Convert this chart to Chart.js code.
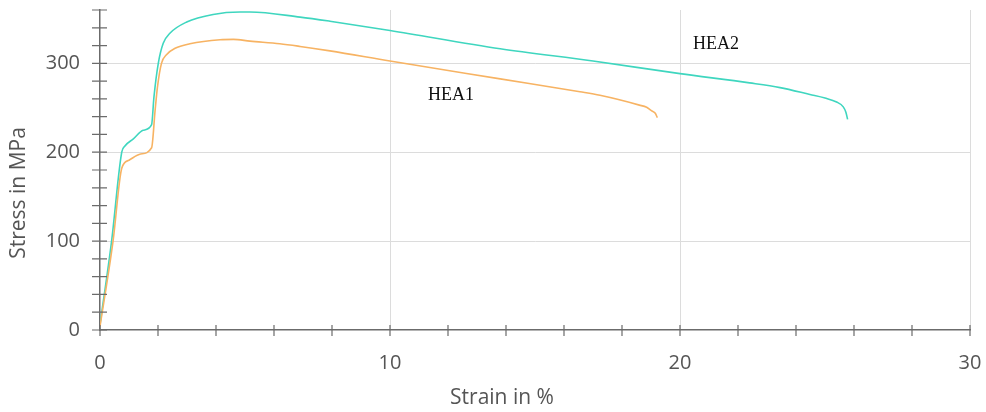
<!DOCTYPE html>
<html lang="en">
<head>
    <meta charset="UTF-8">
    <title>Stress-Strain HEA1 / HEA2</title>
    <style>
        body {
            margin: 0;
            padding: 0;
            background-color: white;
        }
        .chart-box {
            width: 986px;
            height: 412px;
        }
    </style>
</head>
<body>
    <div class="chart-box">
        <canvas id="chart"></canvas>
    </div>

    <script src="https://cdn.jsdelivr.net/npm/chart.js"></script>
    <script>
        // HEA1 (orange)
        const hea1Strain = [0, 0.45, 0.75, 1.0, 1.4, 1.78, 1.9, 1.98, 2.12, 2.3, 2.59, 3.1, 4.14, 4.6, 5.17, 6.2, 6.9, 7.93, 10, 13.8, 16.55, 17.24, 18.6, 18.85, 19.0, 19.14, 19.22];
        const hea1Stress = [4, 100, 182, 191, 198, 205, 247, 273, 300, 310, 317, 322, 326.6, 327, 325, 322, 319, 314, 302.6, 282.5, 268, 264, 253, 250.5, 247, 244, 239];

        // HEA2 (turquoise)
        const hea2Strain = [0, 0.4, 0.75, 0.86, 1.15, 1.49, 1.78, 1.86, 2.01, 2.18, 2.41, 2.99, 3.9, 4.83, 5.17, 6.9, 7.93, 10, 13.8, 17, 20, 22.4, 23.45, 24.48, 25.0, 25.4, 25.63, 25.72, 25.78];
        const hea2Stress = [6, 100, 200, 207, 215, 224.7, 231, 262, 300, 322.5, 333.8, 346.5, 355, 357.7, 357.7, 352, 347.4, 337, 316.5, 302.7, 288.4, 278, 272.7, 265, 261, 256.5, 251, 245, 237];

        // curve labels, placed in data units
        const curveLabels = ['HEA1', 'HEA2'];
        const labelStrain = [12.1, 21.24];
        const labelStress = [264, 321];

        const xTickLabels = [0, 10, 20, 30];
        const yTickLabels = [0, 100, 200, 300];
        const xTitle = 'Strain in %';
        const yTitle = 'Stress in MPa';

        function toPoints(xs, ys) {
            return xs.map((x, i) => ({ x: x, y: ys[i] }));
        }

        // small ticks that cross the axis lines
        const crossTicks = {
            id: 'crossTicks',
            afterDraw(chart) {
                const ctx = chart.ctx;
                const xs = chart.scales.x;
                const ys = chart.scales.y;
                const x0 = xs.getPixelForValue(0);
                const y0 = ys.getPixelForValue(0);
                ctx.save();
                ctx.strokeStyle = '#6b6b6b';
                ctx.lineWidth = 1.2;
                ctx.beginPath();
                xs.ticks.forEach(t => {
                    const px = xs.getPixelForValue(t.value);
                    ctx.moveTo(px, y0 - 5);
                    ctx.lineTo(px, y0 + 6);
                });
                ys.ticks.forEach(t => {
                    const py = ys.getPixelForValue(t.value);
                    ctx.moveTo(x0 - 8, py);
                    ctx.lineTo(x0 + 7, py);
                });
                ctx.stroke();
                ctx.restore();
            }
        };

        // axis titles sit a bit off the centre of the plot in the original
        const axisTitles = {
            id: 'axisTitles',
            afterDraw(chart) {
                const ctx = chart.ctx;
                const area = chart.chartArea;
                ctx.save();
                ctx.fillStyle = '#555';
                ctx.font = '21px "Open Sans", sans-serif';
                ctx.textAlign = 'center';
                ctx.textBaseline = 'middle';
                ctx.fillText(xTitle, (area.left + area.right) / 2 - 33, chart.height - 14);
                ctx.translate(19, (area.top + area.bottom) / 2 + 23);
                ctx.rotate(-Math.PI / 2);
                ctx.fillText(yTitle, 0, 0);
                ctx.restore();
            }
        };

        const curveText = {
            id: 'curveText',
            afterDatasetsDraw(chart) {
                const ctx = chart.ctx;
                ctx.save();
                ctx.fillStyle = '#111';
                ctx.font = '18px "Liberation Serif", serif';
                ctx.textAlign = 'center';
                ctx.textBaseline = 'middle';
                curveLabels.forEach((txt, i) => {
                    ctx.fillText(txt,
                        chart.scales.x.getPixelForValue(labelStrain[i]),
                        chart.scales.y.getPixelForValue(labelStress[i]));
                });
                ctx.restore();
            }
        };

        new Chart(document.getElementById('chart'), {
            type: 'line',
            data: {
                datasets: [
                    {
                        label: 'HEA1',
                        data: toPoints(hea1Strain, hea1Stress),
                        borderColor: '#f7b363',
                        borderWidth: 1.6,
                        pointRadius: 0,
                        cubicInterpolationMode: 'monotone',
                        fill: false
                    },
                    {
                        label: 'HEA2',
                        data: toPoints(hea2Strain, hea2Stress),
                        borderColor: '#3fd6bf',
                        borderWidth: 1.6,
                        pointRadius: 0,
                        cubicInterpolationMode: 'monotone',
                        fill: false
                    }
                ]
            },
            options: {
                responsive: true,
                maintainAspectRatio: false,
                animation: false,
                layout: { padding: { top: 10, right: 16, left: 0, bottom: 0 } },
                plugins: {
                    legend: { display: false },
                    tooltip: { enabled: false }
                },
                scales: {
                    x: {
                        type: 'linear',
                        min: 0,
                        max: 30,
                        afterFit: s => {
                            s.height = 82;
                            s.paddingLeft = 0;
                            s.paddingRight = 0;
                        },
                        border: { color: '#6b6b6b', width: 1.5 },
                        grid: {
                            drawTicks: false,
                            color: c => (c.tick && c.tick.value > 0 && xTickLabels.includes(c.tick.value)) ? '#dcdcdc' : 'rgba(0,0,0,0)'
                        },
                        ticks: {
                            stepSize: 2,
                            autoSkip: false,
                            maxRotation: 0,
                            padding: 21,
                            color: '#555',
                            font: { family: '"Open Sans", sans-serif', size: 20 },
                            callback: v => xTickLabels.includes(v) ? String(v) : ''
                        },
                        title: { display: false, text: xTitle }
                    },
                    y: {
                        min: 0,
                        max: 360,
                        afterFit: s => {
                            s.width = 100;
                            s.paddingTop = 0;
                            s.paddingBottom = 0;
                        },
                        border: { color: '#6b6b6b', width: 1.5 },
                        grid: {
                            drawTicks: false,
                            color: c => (c.tick && c.tick.value > 0 && yTickLabels.includes(c.tick.value)) ? '#dcdcdc' : 'rgba(0,0,0,0)'
                        },
                        ticks: {
                            stepSize: 20,
                            autoSkip: false,
                            padding: 20,
                            color: '#555',
                            font: { family: '"Open Sans", sans-serif', size: 20 },
                            callback: v => yTickLabels.includes(v) ? String(v) : ''
                        },
                        title: { display: false, text: yTitle }
                    }
                }
            },
            plugins: [crossTicks, axisTitles, curveText]
        });
    </script>
</body>
</html>
